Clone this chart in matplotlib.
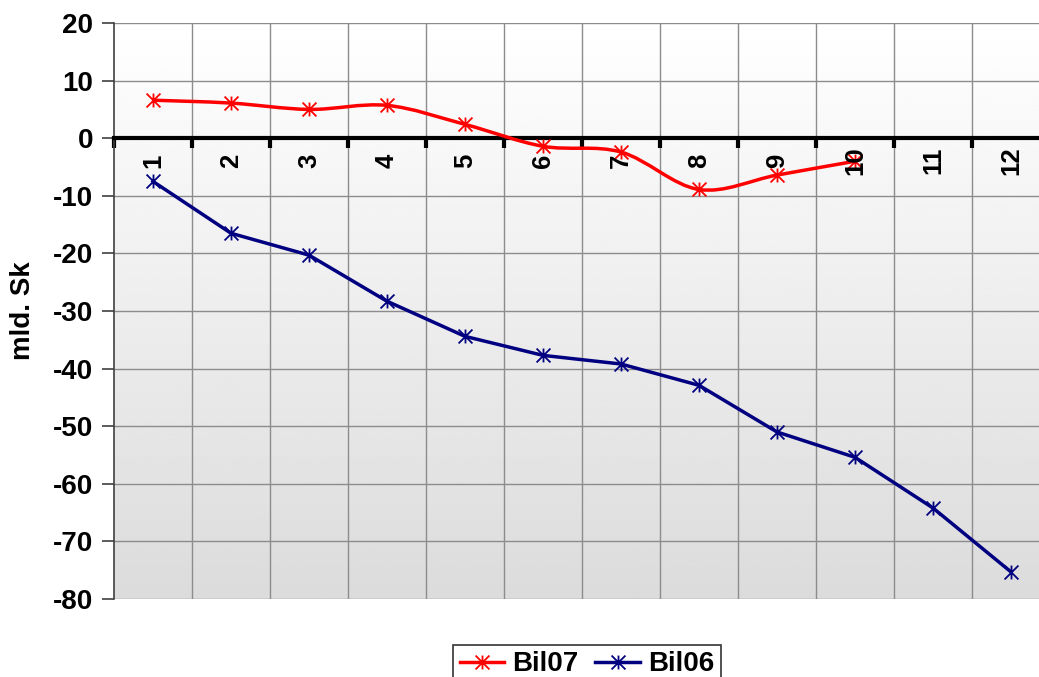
import numpy as np
import matplotlib.pyplot as plt
from matplotlib.path import Path
from matplotlib.patches import PathPatch
from matplotlib.lines import Line2D

plt.rcParams['font.family'] = ['Liberation Sans', 'DejaVu Sans']
plt.rcParams['font.weight'] = 'bold'

months = [1, 2, 3, 4, 5, 6, 7, 8, 9, 10, 11, 12]
bil07 = [6.6, 6.1, 5.0, 5.7, 2.4, -1.4, -2.4, -8.9, -6.4, -4.0]
bil06 = [-7.5, -16.5, -20.3, -28.3, -34.4, -37.7, -39.2, -42.9, -51.0, -55.4, -64.2, -75.3]
yticks = [20, 10, 0, -10, -20, -30, -40, -50, -60, -70, -80]

# Excel style star marker: an X with a vertical stroke
star = Path([(0, -1), (0, 1), (-1, -1), (1, 1), (-1, 1), (1, -1)],
            [Path.MOVETO, Path.LINETO] * 3)

fig = plt.figure(figsize=(10.39, 6.77), dpi=100)
ax = fig.add_axes([0.1097, 0.1152, 0.9009, 0.8508])

# gradient background
grad = np.linspace(0.86, 1.0, 256).reshape(-1, 1)
ax.imshow(grad, cmap='gray', vmin=0, vmax=1, extent=(0, 1, 0, 1), transform=ax.transAxes,
          aspect='auto', origin='lower', zorder=0)

ax.set_xlim(0.5, 12.5)
ax.set_ylim(-80, 20)

# grid
for b in np.arange(1.5, 12.5, 1.0):
    ax.axvline(b, color='#8c8c8c', lw=1, zorder=1)
for t in yticks:
    ax.axhline(t, color='#8c8c8c', lw=1, zorder=1)

# smooth red line (Bezier like Excel smoothing)
x7 = np.array(months[:len(bil07)], dtype=float)
y7 = np.array(bil07)
pts = np.column_stack([x7, y7])
verts = [pts[0]]
codes = [Path.MOVETO]
n = len(pts)
for i in range(n - 1):
    p0 = pts[i - 1] if i > 0 else pts[i]
    p1 = pts[i]
    p2 = pts[i + 1]
    p3 = pts[i + 2] if i + 2 < n else pts[i + 1]
    c1 = p1 + (p2 - p0) / 6.0
    c2 = p2 - (p3 - p1) / 6.0
    verts += [c1, c2, p2]
    codes += [Path.CURVE4] * 3
ax.add_patch(PathPatch(Path(verts, codes), facecolor='none', edgecolor='#ff0000', lw=2.5, zorder=4))
ax.plot(x7, y7, ls='none', marker=star, ms=10, mec='#ff0000', mew=1.3, zorder=5)

ax.plot(months, bil06, color='#000080', lw=2.5, marker=star, ms=10, mec='#000080', mew=1.3, zorder=5)

# axes styling
for s in ['top', 'right']:
    ax.spines[s].set_visible(False)
ax.spines['bottom'].set_position(('data', 0))
ax.spines['bottom'].set_linewidth(3)
ax.spines['bottom'].set_color('black')
ax.spines['bottom'].set_zorder(3)
ax.spines['left'].set_color('#404040')
ax.spines['left'].set_linewidth(1.2)

ax.set_xticks(np.arange(0.5, 12.6, 1.0))
ax.set_xticklabels([])
ax.tick_params(axis='x', direction='out', length=7, width=3, color='black')
ax.set_yticks(yticks)
ax.set_yticklabels([str(t) for t in yticks], fontsize=20, fontweight='bold')
ax.tick_params(axis='y', direction='out', length=9, width=1.2, color='#404040', pad=6)

for m in months:
    ax.text(m, -3.9, str(m), rotation=90, ha='center', va='center', fontsize=18.5, fontweight='bold', zorder=6)

fig.text(0.022, 0.541, 'mld. Sk', rotation=90, ha='center', va='center', fontsize=20, fontweight='bold')

handles = [Line2D([], [], color='#ff0000', lw=2.5, marker=star, ms=10, mew=1.3),
           Line2D([], [], color='#000080', lw=2.5, marker=star, ms=10, mew=1.3)]
leg = fig.legend(handles, ['Bil07', 'Bil06'], loc='upper center', bbox_to_anchor=(0.565, 0.0685),
                 ncol=2, fontsize=20, frameon=True, fancybox=False, edgecolor='black',
                 handlelength=1.6, handletextpad=0.3, columnspacing=0.6, borderpad=0.25)
leg.get_frame().set_linewidth(1.2)
for t in leg.get_texts():
    t.set_fontweight('bold')

fig.savefig('out.png', dpi=100)
